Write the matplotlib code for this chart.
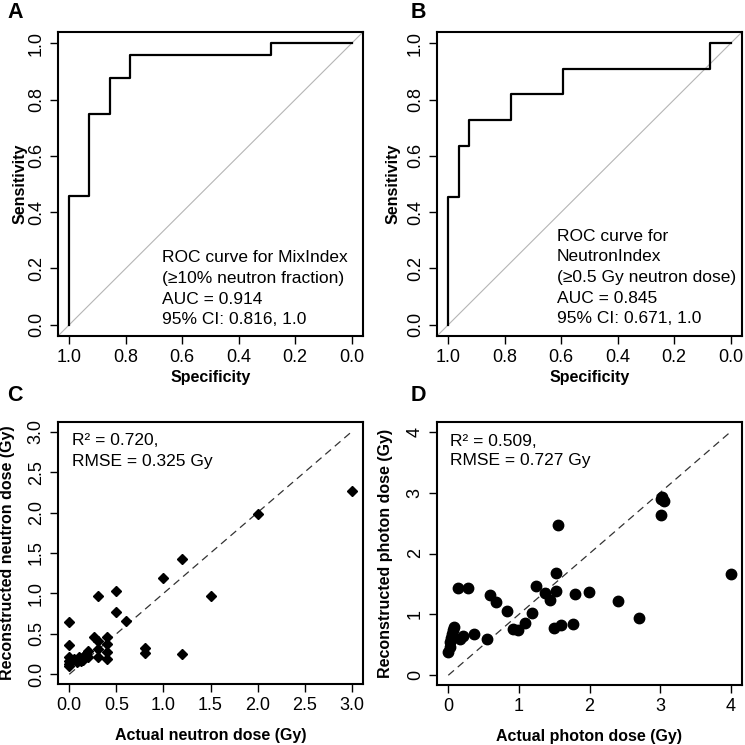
import matplotlib
matplotlib.use("Agg")
import matplotlib.pyplot as plt

plt.rcParams['font.family'] = ['Liberation Sans', 'DejaVu Sans']

# ---------------- data ----------------
# Panel A: ROC for MixIndex
spec_a = [1.0, 1.0, 0.929, 0.929, 0.857, 0.857, 0.786, 0.786, 0.286, 0.286, 0.0]
sens_a = [0.0, 0.458, 0.458, 0.75, 0.75, 0.875, 0.875, 0.958, 0.958, 1.0, 1.0]
text_a = ["ROC curve for MixIndex", "(\u226510% neutron fraction)", "AUC = 0.914", "95% CI: 0.816, 1.0"]

# Panel B: ROC for NeutronIndex
spec_b = [1.0, 1.0, 0.963, 0.963, 0.926, 0.926, 0.778, 0.778, 0.593, 0.593, 0.074, 0.074, 0.0]
sens_b = [0.0, 0.455, 0.455, 0.636, 0.636, 0.727, 0.727, 0.818, 0.818, 0.909, 0.909, 1.0, 1.0]
text_b = ["ROC curve for", "NeutronIndex", "(\u22650.5 Gy neutron dose)", "AUC = 0.845", "95% CI: 0.671, 1.0"]

# Panel C: neutron dose
neutron_actual = [0.0, 0.0, 0.0, 0.0, 0.0, 0.0, 0.05, 0.08, 0.1, 0.12, 0.15, 0.15, 0.18, 0.2, 0.2,
                  0.26, 0.3, 0.3, 0.3, 0.3, 0.4, 0.4, 0.4, 0.4, 0.5, 0.5, 0.6,
                  0.8, 0.8, 1.0, 1.2, 1.2, 1.5, 2.0, 3.0]
neutron_recon = [0.65, 0.36, 0.21, 0.17, 0.13, 0.10, 0.19, 0.15, 0.21, 0.16, 0.22, 0.18, 0.25, 0.29, 0.22,
                 0.46, 0.97, 0.41, 0.31, 0.22, 0.46, 0.37, 0.27, 0.19, 1.03, 0.77, 0.66,
                 0.33, 0.26, 1.19, 1.43, 0.25, 0.97, 1.98, 2.27]
text_c = ["R\u00b2 = 0.720,", "RMSE = 0.325 Gy"]

# Panel D: photon dose
photon_actual = [0.0, 0.02, 0.03, 0.04, 0.05, 0.07, 0.08, 0.14, 0.28, 0.17, 0.21, 0.36, 0.55,
                 0.59, 0.67, 0.83, 0.91, 0.99, 1.09, 1.18, 1.24, 1.37, 1.44, 1.52, 1.52, 1.56,
                 1.50, 1.60, 1.77, 1.79, 1.99, 2.40, 2.70, 3.01, 3.01, 3.05, 3.02, 4.0]
photon_recon = [0.38, 0.47, 0.55, 0.62, 0.68, 0.74, 0.80, 1.43, 1.43, 0.59, 0.65, 0.68, 0.59,
                1.32, 1.20, 1.06, 0.76, 0.74, 0.86, 1.03, 1.47, 1.35, 1.24, 1.39, 1.68, 2.47,
                0.77, 0.82, 0.84, 1.34, 1.36, 1.22, 0.94, 2.63, 2.90, 2.87, 2.93, 1.67]
text_d = ["R\u00b2 = 0.509,", "RMSE = 0.727 Gy"]

roc_ticks = [0.0, 0.2, 0.4, 0.6, 0.8, 1.0]
c_ticks = [0.0, 0.5, 1.0, 1.5, 2.0, 2.5, 3.0]
d_ticks = [0, 1, 2, 3, 4]

# ---------------- layout ----------------
W = 745
fig = plt.figure(figsize=(7.45, 7.45), dpi=100)

def add_ax(l, t, r, b):
    return fig.add_axes([l / W, 1 - b / W, (r - l) / W, (b - t) / W])

TICK_FS = 13
LAB_FS = 11.5
TXT_FS = 12.5

def style(ax):
    for s in ax.spines.values():
        s.set_linewidth(1.5)
    ax.tick_params(direction='out', length=5.5, width=1.0, labelsize=TICK_FS, pad=4)
    for lab in ax.get_yticklabels():
        lab.set_rotation(90)
        lab.set_va('center')

axA = add_ax(58, 32, 363, 336)
axB = add_ax(437, 32, 742, 336)
axC = add_ax(58, 422, 363, 684)
axD = add_ax(437, 422, 742, 685)

for ax, sx, sy, txt, tx, ty0 in [(axA, spec_a, sens_a, text_a, 0.671, 0.238),
                                  (axB, spec_b, sens_b, text_b, 0.616, 0.315)]:
    ax.axline((1, 0), (0, 1), color='#b5b5b5', lw=0.8, zorder=1)
    ax.plot(sx, sy, color='black', lw=1.6, zorder=3)
    ax.set_xlim(1.04, -0.04)
    ax.set_ylim(-0.04, 1.04)
    ax.set_xticks(roc_ticks)
    ax.set_yticks(roc_ticks)
    ax.set_xticklabels([f"{v:.1f}" for v in roc_ticks])
    ax.set_yticklabels([f"{v:.1f}" for v in roc_ticks])
    style(ax)
    for i, line in enumerate(txt):
        ax.text(tx, ty0 - i * 0.0735, line, fontsize=TXT_FS, ha='left', va='center')
    ax.set_xlabel("Specificity", fontsize=LAB_FS, fontweight='bold', va='center')
    ax.set_ylabel("Sensitivity", fontsize=LAB_FS, fontweight='bold', va='center')
    ax.xaxis.set_label_coords(0.5, -0.138)

axA.yaxis.set_label_coords(-0.126, 0.5)
axB.yaxis.set_label_coords(-0.144, 0.5)

# Panel C
axC.plot([0, 3], [0, 3], color='#333333', lw=0.9, dashes=(6, 4), zorder=1)
axC.plot(neutron_actual, neutron_recon, linestyle='none', marker='D', ms=5.4,
         color='black', zorder=3)
axC.set_xlim(-0.12, 3.12)
axC.set_ylim(-0.12, 3.12)
axC.set_xticks(c_ticks)
axC.set_yticks(c_ticks)
axC.set_xticklabels([f"{v:.1f}" for v in c_ticks])
axC.set_yticklabels([f"{v:.1f}" for v in c_ticks])
style(axC)
axC.text(0.025, 2.886, text_c[0], fontsize=TXT_FS, ha='left', va='center')
axC.text(0.025, 2.637, text_c[1], fontsize=TXT_FS, ha='left', va='center')
axC.set_xlabel("Actual neutron dose (Gy)", fontsize=LAB_FS, fontweight='bold', va='center')
axC.set_ylabel("Reconstructed neutron dose (Gy)", fontsize=LAB_FS, fontweight='bold', va='center')
axC.xaxis.set_label_coords(0.5, -0.195)
axC.yaxis.set_label_coords(-0.164, 0.5)

# Panel D
axD.plot([0, 4], [0, 4], color='#333333', lw=0.9, dashes=(6, 4), zorder=1)
axD.plot(photon_actual, photon_recon, linestyle='none', marker='o', ms=7.5,
         color='black', zorder=3)
axD.set_xlim(-0.16, 4.16)
axD.set_ylim(-0.16, 4.16)
axD.set_xticks(d_ticks)
axD.set_yticks(d_ticks)
axD.set_xticklabels([str(v) for v in d_ticks])
axD.set_yticklabels([str(v) for v in d_ticks])
style(axD)
axD.text(0.02, 3.835, text_d[0], fontsize=TXT_FS, ha='left', va='center')
axD.text(0.02, 3.52, text_d[1], fontsize=TXT_FS, ha='left', va='center')
axD.set_xlabel("Actual photon dose (Gy)", fontsize=LAB_FS, fontweight='bold', va='center')
axD.set_ylabel("Reconstructed photon dose (Gy)", fontsize=LAB_FS, fontweight='bold', va='center')
axD.xaxis.set_label_coords(0.5, -0.195)
axD.yaxis.set_label_coords(-0.170, 0.5)

# Panel letters
for letter, px, py in [("A", 7, 18), ("B", 411, 18), ("C", 7, 401), ("D", 411, 401)]:
    fig.text(px / W, 1 - py / W, letter, fontsize=15.5, fontweight='bold',
             ha='left', va='baseline')

fig.savefig("out.png", dpi=100)
